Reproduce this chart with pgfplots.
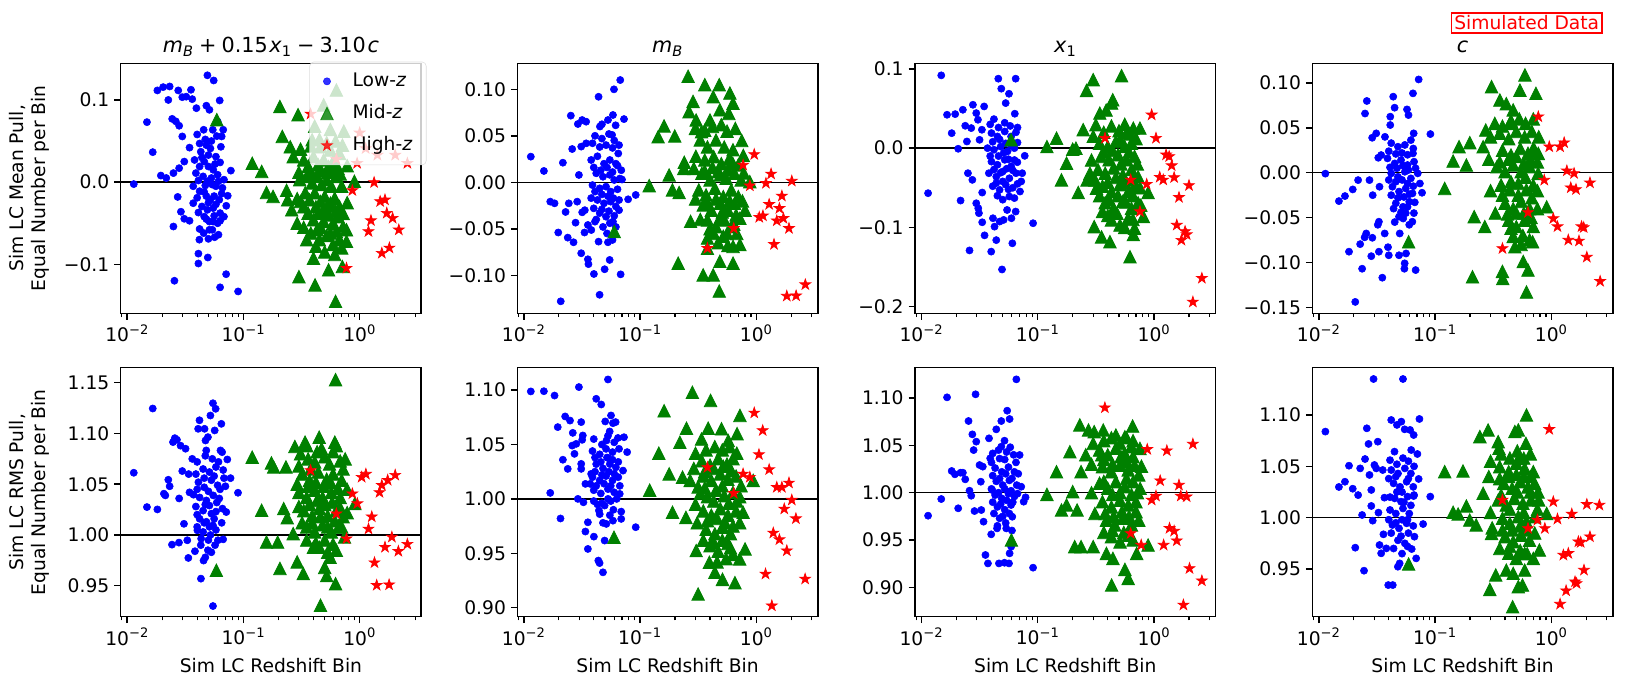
\documentclass[border=0pt]{standalone}
\usepackage{fontspec}
\setmainfont{DejaVu Sans}
\usepackage{pgfplots}
\pgfplotsset{compat=1.18}

\definecolor{mplblue}{rgb}{0,0,1}
\definecolor{mplgreen}{rgb}{0,0.5,0}
\definecolor{mplred}{rgb}{1,0,0}

% matplotlib-like '^' and '*' markers
\pgfdeclareplotmark{mtri}{%
  \pgfpathmoveto{\pgfqpoint{0pt}{\pgfplotmarksize}}%
  \pgfpathlineto{\pgfqpoint{-\pgfplotmarksize}{-\pgfplotmarksize}}%
  \pgfpathlineto{\pgfqpoint{\pgfplotmarksize}{-\pgfplotmarksize}}%
  \pgfpathclose\pgfusepathqfillstroke}
\pgfdeclareplotmark{mstar}{%
  \pgfpathmoveto{\pgfpointpolar{90}{\pgfplotmarksize}}%
  \pgfpathlineto{\pgfpointpolar{126}{0.382\pgfplotmarksize}}%
  \pgfpathlineto{\pgfpointpolar{162}{\pgfplotmarksize}}%
  \pgfpathlineto{\pgfpointpolar{198}{0.382\pgfplotmarksize}}%
  \pgfpathlineto{\pgfpointpolar{234}{\pgfplotmarksize}}%
  \pgfpathlineto{\pgfpointpolar{270}{0.382\pgfplotmarksize}}%
  \pgfpathlineto{\pgfpointpolar{306}{\pgfplotmarksize}}%
  \pgfpathlineto{\pgfpointpolar{342}{0.382\pgfplotmarksize}}%
  \pgfpathlineto{\pgfpointpolar{18}{\pgfplotmarksize}}%
  \pgfpathlineto{\pgfpointpolar{54}{0.382\pgfplotmarksize}}%
  \pgfpathclose\pgfusepathqfillstroke}

\newcommand{\tfs}{\fontsize{13.5}{16.2}\selectfont}
\newcommand{\op}[1]{\hspace{0.25em}#1\hspace{0.25em}}

\tikzset{
  lowz/.style={only marks, mark=*, mark size=2.6pt, color=mplblue, mark options={line width=0.4pt}},
  midz/.style={only marks, mark=mtri, mark size=4.5pt, color=mplgreen, mark options={line width=0.6pt}},
  highz/.style={only marks, mark=mstar, mark size=4.1pt, color=mplred, mark options={line width=0.5pt}},
  zline/.style={black, line width=1.08pt},
}

\pgfplotsset{
  every axis title shift=0pt,
  every axis/.append style={
    scale only axis, width=3.005in, anchor=north west,
    xmode=log, xmin=0.0088, xmax=3.38,
    xtick={0.01,0.1,1},
    xticklabels={10\textsuperscript{−2},10\textsuperscript{−1},10\textsuperscript{0}},
    minor xtick={0.009,0.02,0.03,0.04,0.05,0.06,0.07,0.08,0.09,0.2,0.3,0.4,0.5,0.6,0.7,0.8,0.9,2,3},
    tick align=outside, tick pos=left,
    major tick length=4.7pt, minor tick length=2.7pt,
    every major tick/.append style={line width=1.08pt, black},
    every minor tick/.append style={line width=0.8pt, black},
    axis line style={line width=1.08pt},
    tick label style={font=\tfs},
    label style={font=\tfs},
    title style={font=\fontsize{15}{18}\selectfont, at={(0.5,1)}, anchor=base, yshift=0.11in},
    ylabel style={align=center, at={(axis description cs:-0.236,0.5)}, anchor=south, inner sep=0pt},
    xlabel style={at={(axis description cs:0.5,-0.2249)}, anchor=base},
  },
}

\begin{document}
\begin{tikzpicture}

% ---------------- top row: mean pull ----------------
\begin{axis}[height=2.5in, at={(1.207in,-0.633in)},
  ymin=-0.1596, ymax=0.1446,
  ytick={-0.1,0,0.1}, yticklabels={−0.1,0.0,0.1},
  title={\textit{m}\textsubscript{\textit{B}}\op{+}0.15\hspace{0.08em}\textit{x}\textsubscript{1}\op{−}3.10\hspace{0.08em}\textit{c}},
  ylabel={Sim LC Mean Pull,\\Equal Number per Bin},
  legend style={at={(1.0177,1.0064)}, anchor=north east, draw=black!16, fill=white,
    fill opacity=0.8, draw opacity=0.8, text opacity=1, rounded corners=3pt, font=\tfs,
    inner xsep=8pt, inner ysep=4pt, row sep=3.2pt, column sep=12pt,
    nodes={inner ysep=3.5pt, text height=10pt, text depth=3pt}},
  legend cell align=left,
]
\addplot[lowz] coordinates {
(0.0114,-0.0024) (0.0148,0.073) (0.0166,0.0365) (0.0182,0.1116) (0.0204,0.1156) (0.0232,0.1164) (0.0226,0.100) (0.0195,0.008)
(0.0217,0.005) (0.0244,0.077) (0.0262,0.074) (0.028,0.0686) (0.0275,0.1116) (0.0298,0.1034) (0.0322,0.104) (0.0354,0.1124)
(0.0363,0.101) (0.0394,0.090) (0.0298,0.0556) (0.0344,0.042) (0.031,0.025) (0.028,0.017) (0.025,0.011) (0.0272,-0.018)
(0.029,-0.036) (0.031,-0.0446) (0.0344,-0.047) (0.025,-0.054) (0.0255,-0.120) (0.041,-0.087) (0.041,-0.099) (0.0494,-0.0917)
(0.049,0.130) (0.0555,0.1237) (0.0625,0.0994) (0.048,0.093) (0.051,0.088) (0.0455,0.0637) (0.0545,0.0637) (0.067,0.0637)
(0.060,0.0738) (0.065,0.0556) (0.078,0.014) (0.0733,-0.0166) (0.0712,-0.0288) (0.063,-0.0377) (0.0565,-0.067) (0.050,-0.069)
(0.0418,-0.070) (0.071,-0.112) (0.063,-0.128) (0.090,-0.133) (0.042,-0.057) (0.051,-0.058) (0.055,-0.048)
(0.042,0.047) (0.043,0.037) (0.048,0.045) (0.052,0.041) (0.058,0.031) (0.064,0.043) (0.038,0.027) (0.042,0.019) (0.046,0.025)
(0.050,0.019) (0.055,0.015) (0.060,0.009) (0.039,0.011) (0.045,0.007) (0.049,0.001) (0.054,-0.003) (0.058,-0.005) (0.066,-0.007)
(0.037,-0.005) (0.042,-0.011) (0.048,-0.017) (0.052,-0.0215) (0.056,-0.017) (0.062,-0.0215) (0.037,-0.0256) (0.044,-0.0296)
(0.049,-0.0337) (0.055,-0.0316) (0.046,-0.042) (0.051,-0.048) (0.060,-0.050) (0.0455,-0.062)
(0.040,0.058) (0.047,0.052) (0.053,0.050) (0.059,0.056) (0.044,0.030) (0.050,0.033) (0.057,0.022) (0.063,0.024) (0.041,0.002)
(0.047,-0.004) (0.053,0.005) (0.061,0.001) (0.068,0.003) (0.040,-0.019) (0.046,-0.012) (0.050,-0.025) (0.058,-0.027) (0.065,-0.014)
(0.041,-0.037) (0.048,-0.045) (0.056,-0.041) (0.063,-0.047) (0.054,-0.058) (0.061,-0.064) (0.068,-0.042)
};
\addlegendentry{Low-\textit{z}}
\addplot[midz] coordinates {
(0.059,0.076) (0.119,0.023) (0.1435,0.013) (0.158,-0.0126) (0.18,-0.0174) (0.206,0.092) (0.216,0.0556) (0.235,-0.010)
(0.253,0.043) (0.268,0.031) (0.295,0.082) (0.305,0.003) (0.29,-0.050) (0.30,-0.115) (0.40,-0.0925) (0.413,-0.125) (0.62,-0.145)
(0.54,-0.1067) (0.61,-0.088) (0.71,-0.1026) (0.77,-0.058) (0.90,0.001) (0.63,0.112) (0.49,0.094) (0.73,0.062) (0.35,-0.070)
(0.45,-0.070) (0.24,-0.0215) (0.26,-0.0337) (0.31,-0.0235)
(0.33,0.027) (0.36,0.019) (0.40,0.031) (0.44,0.021) (0.49,0.027) (0.54,0.019) (0.59,0.025) (0.65,0.017) (0.35,0.007) (0.39,-0.001)
(0.43,0.007) (0.47,-0.003) (0.52,0.003) (0.57,-0.005) (0.63,0.007) (0.70,-0.005) (0.34,-0.013) (0.37,-0.0215) (0.41,-0.013)
(0.46,-0.0235) (0.50,-0.0174) (0.56,-0.0256) (0.61,-0.0195) (0.67,-0.0296) (0.36,-0.0377) (0.40,-0.0458) (0.44,-0.0377)
(0.49,-0.048) (0.54,-0.040) (0.59,-0.050) (0.65,-0.042) (0.72,-0.054) (0.43,-0.058) (0.56,-0.062) (0.67,-0.070) (0.59,-0.076)
(0.39,0.0515) (0.46,0.043) (0.56,0.039) (0.67,0.035) (0.41,0.068) (0.56,0.064)
(0.31,0.040) (0.38,0.044) (0.45,0.052) (0.52,0.048) (0.62,0.050) (0.71,0.045) (0.30,0.012) (0.38,0.012) (0.45,0.014) (0.53,0.012)
(0.60,0.013) (0.68,0.010) (0.78,0.020) (0.29,-0.020) (0.33,-0.030) (0.42,-0.030) (0.48,-0.035) (0.53,-0.028) (0.62,-0.035)
(0.72,-0.038) (0.78,-0.025) (0.33,-0.055) (0.38,-0.062) (0.46,-0.055) (0.52,-0.065) (0.63,-0.060) (0.70,-0.080) (0.50,-0.085)
(0.42,-0.078) (0.77,-0.072)
};
\addlegendentry{Mid-\textit{z}}
\addplot[highz] coordinates {
(0.378,0.083) (0.63,0.028) (0.95,0.023) (1.42,0.033) (2.02,0.033) (2.57,0.023) (1.125,0.041) (1.0,0.060) (1.33,-0.0004)
(0.865,-0.0101) (1.50,-0.0235) (1.65,-0.0215) (1.71,-0.0377) (1.92,-0.0438) (2.17,-0.058) (1.25,-0.0467) (1.19,-0.060)
(1.80,-0.080) (1.55,-0.0864) (0.77,-0.1047)
};
\addlegendentry{High-\textit{z}}
\addplot[zline, forget plot] coordinates {(0.0088,0) (3.38,0)};
\end{axis}

\begin{axis}[height=2.5in, at={(5.173in,-0.633in)},
  ymin=-0.1409, ymax=0.128,
  ytick={-0.1,-0.05,0,0.05,0.1}, yticklabels={−0.10,−0.05,0.00,0.05,0.10},
  title={\textit{m}\textsubscript{\textit{B}}}]
\addplot[lowz] coordinates {
(0.0115,0.0276) (0.0149,0.0122) (0.0217,0.0211) (0.0169,-0.0208) (0.0184,-0.0226) (0.0198,-0.054) (0.0208,-0.128) (0.0229,-0.0319)
(0.0244,-0.0226) (0.0239,-0.0595) (0.0268,-0.0645) (0.0279,-0.0434) (0.0288,-0.0208) (0.0254,0.0717) (0.0261,0.0358) (0.0298,0.0079)
(0.0292,0.0627) (0.0318,0.067) (0.0344,0.0652) (0.0312,0.0384) (0.0344,0.0419) (0.0318,-0.0323) (0.0335,-0.030) (0.0312,-0.0763)
(0.0356,-0.0828) (0.0360,-0.088) (0.0401,-0.0986) (0.0449,-0.121) (0.0496,-0.0935) (0.0548,-0.0835) (0.0681,-0.099) (0.044,0.092)
(0.0597,0.100) (0.0676,0.110) (0.0728,0.068) (0.0585,0.0724) (0.053,0.067) (0.0452,0.060) (0.047,0.0624) (0.0617,0.0613)
(0.0575,0.051) (0.0918,-0.0136) (0.079,-0.0183) (0.044,-0.0638) (0.053,-0.0645) (0.0381,-0.0513) (0.0333,-0.054) (0.0356,-0.0459)
(0.041,-0.0423) (0.0585,-0.0423) (0.066,-0.030)
(0.039,0.042) (0.045,0.038) (0.051,0.040) (0.058,0.037) (0.065,0.031) (0.038,0.024) (0.043,0.028) (0.049,0.020) (0.055,0.024)
(0.062,0.020) (0.069,0.013) (0.042,0.0097) (0.048,0.006) (0.055,0.008) (0.060,0.0025) (0.067,0.004) (0.039,-0.003) (0.045,-0.0065)
(0.051,-0.0047) (0.056,-0.010) (0.064,-0.0075) (0.038,-0.017) (0.043,-0.019) (0.049,-0.0226) (0.056,-0.0208) (0.062,-0.026)
(0.045,-0.033) (0.051,-0.037) (0.048,-0.048)
(0.041,0.050) (0.047,0.047) (0.054,0.052) (0.060,0.045) (0.066,0.040) (0.040,0.016) (0.046,0.013) (0.052,0.016) (0.058,0.011)
(0.064,0.018) (0.070,0.003) (0.041,-0.010) (0.047,-0.013) (0.053,-0.015) (0.059,-0.017) (0.066,-0.019) (0.040,-0.028) (0.047,-0.029)
(0.054,-0.031) (0.060,-0.036) (0.042,-0.040) (0.055,-0.044) (0.062,-0.048) (0.052,-0.055) (0.058,-0.062)
};
\addplot[midz] coordinates {
(0.06,-0.053) (0.12,-0.0036) (0.143,0.049) (0.161,0.0606) (0.199,0.0498) (0.178,0.0079) (0.19,-0.0082) (0.217,-0.011) (0.213,-0.087)
(0.238,0.015) (0.24,0.0215) (0.259,0.114) (0.272,-0.042) (0.264,0.076) (0.286,0.087) (0.302,0.028) (0.304,0.067) (0.361,0.105)
(0.349,-0.0996) (0.38,-0.071) (0.426,-0.0996) (0.48,-0.117) (0.486,-0.085) (0.48,0.105) (0.426,0.092) (0.593,0.096) (0.631,-0.087)
(0.631,-0.069) (0.723,-0.067) (0.723,-0.0387) (0.80,-0.030) (0.773,0.029) (0.88,0.0007) (0.486,0.078) (0.58,0.074) (0.631,0.085)
(0.40,0.067) (0.338,0.0545)
(0.33,0.0455) (0.38,0.038) (0.45,0.0455) (0.53,0.038) (0.63,0.035) (0.36,0.024) (0.43,0.0276) (0.50,0.020) (0.59,0.026) (0.70,0.0186)
(0.34,0.0097) (0.40,0.0025) (0.47,0.0115) (0.55,0.0043) (0.65,0.0097) (0.74,0.0025) (0.32,-0.0082) (0.37,-0.0136) (0.44,-0.0065)
(0.52,-0.0154) (0.61,-0.0082) (0.70,-0.0154) (0.35,-0.0244) (0.41,-0.030) (0.49,-0.0226) (0.57,-0.030) (0.65,-0.0226)
(0.38,-0.0405) (0.45,-0.0477) (0.53,-0.0405) (0.61,-0.0477) (0.43,-0.055) (0.52,-0.058)
(0.30,0.058) (0.36,0.056) (0.42,0.060) (0.50,0.062) (0.56,0.055) (0.66,0.058) (0.75,0.045) (0.29,0.015) (0.36,0.012) (0.42,0.016)
(0.49,0.008) (0.57,0.014) (0.63,0.020) (0.78,0.010) (0.30,-0.018) (0.38,-0.022) (0.45,-0.018) (0.51,-0.032) (0.59,-0.020)
(0.67,-0.035) (0.76,-0.020) (0.33,-0.040) (0.40,-0.050) (0.48,-0.040) (0.56,-0.055) (0.64,-0.045) (0.47,-0.065) (0.57,-0.068)
(0.38,-0.060) (0.68,-0.055)
};
\addplot[highz] coordinates {
(0.96,0.030) (0.77,0.0186) (0.88,-0.0037) (1.21,-0.001) (1.34,0.009) (2.02,0.0014) (1.66,-0.0147) (1.29,-0.0237) (1.58,-0.028)
(1.06,-0.0376) (1.14,-0.036) (1.50,-0.0413) (1.71,-0.0387) (1.91,-0.0495) (1.42,-0.0667) (0.64,-0.0495) (1.83,-0.1223)
(2.20,-0.122) (2.64,-0.110) (0.38,-0.071)
};
\addplot[zline] coordinates {(0.0088,0) (3.38,0)};
\end{axis}

\begin{axis}[height=2.5in, at={(9.150in,-0.633in)},
  ymin=-0.2083, ymax=0.107,
  ytick={-0.2,-0.1,0,0.1}, yticklabels={−0.2,−0.1,0.0,0.1},
  title={\textit{x}\textsubscript{1}}]
\addplot[lowz] coordinates {
(0.0148,0.0918) (0.0114,-0.0568) (0.0166,0.0421) (0.0195,0.0429) (0.0182,0.0189) (0.0207,-0.0008) (0.0217,-0.0661) (0.0227,0.0484)
(0.0238,0.0282) (0.0246,0.0084) (0.0251,-0.0316) (0.0274,-0.040) (0.0259,-0.129) (0.0277,0.0547) (0.0268,0.0253) (0.0296,0.0442)
(0.0306,0.0358) (0.0316,0.0105) (0.0331,0.0232) (0.0333,-0.056) (0.0296,-0.0695) (0.0308,-0.0758) (0.0312,-0.082) (0.0333,-0.0935)
(0.0349,-0.110) (0.0398,-0.1305) (0.0346,0.0526) (0.042,0.0366) (0.0412,-0.0884) (0.0425,-0.099) (0.0458,0.0876) (0.0486,0.075)
(0.0566,0.0686) (0.0646,0.0876) (0.0493,-0.153) (0.044,-0.116) (0.0605,-0.120) (0.047,-0.0926) (0.0509,-0.0905) (0.0594,-0.0884)
(0.0646,-0.080) (0.0545,-0.078) (0.0773,-0.0097) (0.0912,-0.0947) (0.0704,-0.0547) (0.0721,-0.042) (0.0735,-0.0316)
(0.0668,-0.0177) (0.0670,0.026) (0.0635,0.0434) (0.053,0.0568)
(0.040,0.019) (0.045,0.0147) (0.052,0.021) (0.059,0.0147) (0.037,0.000) (0.042,-0.002) (0.048,0.002) (0.055,-0.004) (0.063,0.000)
(0.040,-0.017) (0.045,-0.021) (0.052,-0.0147) (0.059,-0.023) (0.038,-0.0316) (0.044,-0.036) (0.050,-0.0295) (0.057,-0.038)
(0.065,-0.0316) (0.041,-0.048) (0.047,-0.0526) (0.053,-0.046) (0.061,-0.050) (0.050,-0.065) (0.057,-0.061)
(0.039,0.030) (0.046,0.026) (0.052,0.032) (0.058,0.028) (0.065,0.020) (0.041,0.008) (0.047,0.011) (0.053,0.006) (0.059,0.004)
(0.067,0.007) (0.039,-0.010) (0.046,-0.010) (0.051,-0.006) (0.056,-0.014) (0.063,-0.015) (0.042,-0.027) (0.048,-0.031)
(0.054,-0.026) (0.061,-0.028) (0.067,-0.045) (0.044,-0.044) (0.050,-0.042) (0.056,-0.052) (0.045,-0.060) (0.063,-0.063)
};
\addplot[midz] coordinates {
(0.059,0.0105) (0.12,0.002) (0.145,0.0126) (0.16,-0.040) (0.177,-0.019) (0.20,-0.0013) (0.213,0.000) (0.223,-0.056) (0.246,0.0232)
(0.263,0.0728) (0.30,0.0863) (0.316,0.0295) (0.342,0.0442) (0.306,-0.099) (0.354,-0.112) (0.418,-0.118) (0.432,0.0568)
(0.442,0.061) (0.388,0.048) (0.526,0.0914) (0.621,-0.137) (0.664,-0.109) (0.68,-0.101) (0.757,0.0253) (0.664,0.0253)
(0.89,-0.056) (0.81,-0.0863) (0.51,0.0105) (0.58,0.019) (0.32,-0.0505) (0.266,-0.040) (0.281,-0.0316)
(0.34,0.0063) (0.40,0.002) (0.47,0.0084) (0.56,0.002) (0.64,0.0063) (0.35,-0.0105) (0.41,-0.0147) (0.49,-0.0084) (0.58,-0.0147)
(0.68,-0.0105) (0.33,-0.027) (0.38,-0.0316) (0.45,-0.025) (0.54,-0.034) (0.64,-0.027) (0.73,-0.036) (0.36,-0.048) (0.43,-0.055)
(0.51,-0.046) (0.60,-0.055) (0.68,-0.048) (0.38,-0.069) (0.45,-0.076) (0.54,-0.067) (0.64,-0.076) (0.73,-0.069) (0.43,-0.0905)
(0.51,-0.097) (0.60,-0.0884)
(0.30,0.015) (0.37,0.020) (0.43,0.028) (0.50,0.022) (0.56,0.030) (0.62,0.018) (0.70,0.012) (0.29,-0.015) (0.37,-0.005) (0.44,-0.003)
(0.52,-0.020) (0.61,-0.005) (0.72,-0.020) (0.31,-0.040) (0.40,-0.043) (0.47,-0.037) (0.56,-0.043) (0.66,-0.040) (0.76,-0.050)
(0.34,-0.060) (0.41,-0.065) (0.49,-0.060) (0.57,-0.068) (0.66,-0.060) (0.77,-0.072) (0.40,-0.085) (0.48,-0.082) (0.56,-0.100)
(0.66,-0.090) (0.36,-0.080)
};
\addplot[highz] coordinates {
(0.379,0.0126) (0.955,0.042) (1.04,0.0126) (0.63,-0.040) (0.757,-0.080) (0.865,-0.0455) (1.27,-0.0084) (1.35,-0.0105)
(1.42,-0.022) (1.12,-0.0366) (1.20,-0.040) (1.49,-0.037) (1.64,-0.062) (2.0,-0.047) (1.57,-0.097) (1.85,-0.105) (1.91,-0.109)
(1.72,-0.116) (2.58,-0.164) (2.16,-0.194)
};
\addplot[zline] coordinates {(0.0088,0) (3.38,0)};
\end{axis}

\begin{axis}[height=2.5in, at={(13.123in,-0.633in)}, name=p4,
  ymin=-0.1567, ymax=0.122,
  ytick={-0.15,-0.1,-0.05,0,0.05,0.1}, yticklabels={−0.15,−0.10,−0.05,0.00,0.05,0.10},
  title={\textit{c}}]
\addplot[lowz] coordinates {
(0.0114,-0.001) (0.0149,-0.0316) (0.0168,-0.026) (0.0196,-0.0186) (0.0182,-0.088) (0.0218,-0.0082) (0.0227,-0.0796) (0.0236,-0.107)
(0.0206,-0.144) (0.025,0.066) (0.0259,0.080) (0.0273,-0.0082) (0.0248,-0.072) (0.0256,-0.0677) (0.0283,-0.093) (0.0289,-0.0725)
(0.0291,-0.025) (0.0288,0.039) (0.0312,0.0439) (0.0325,0.0167) (0.0344,0.0197) (0.0333,-0.0156) (0.0329,-0.0546) (0.0322,-0.058)
(0.0329,-0.088) (0.0352,-0.117) (0.0371,0.040) (0.0369,-0.0677) (0.0394,-0.083) (0.0400,-0.092) (0.0412,0.0625) (0.0437,0.0848)
(0.0449,0.0725) (0.0412,0.0532) (0.049,-0.092) (0.0548,-0.101) (0.0545,-0.107) (0.0681,-0.1085) (0.0574,0.0706) (0.0591,0.0643)
(0.0646,0.0885) (0.0723,0.104) (0.0655,0.0439) (0.0912,0.0431) (0.0773,-0.0223) (0.0741,-0.012) (0.0646,0.0216) (0.0563,-0.090)
(0.0497,-0.0677) (0.0638,-0.0546) (0.0658,-0.045) (0.0532,-0.051)
(0.042,0.033) (0.048,0.029) (0.055,0.031) (0.062,0.0364) (0.039,0.016) (0.045,0.0104) (0.051,0.0141) (0.058,0.0086) (0.066,0.0123)
(0.042,-0.0007) (0.048,-0.0045) (0.055,0.0011) (0.062,-0.0063) (0.071,-0.0007) (0.043,-0.0156) (0.049,-0.021) (0.056,-0.0175)
(0.064,-0.023) (0.046,-0.034) (0.053,-0.038) (0.060,-0.0323) (0.049,-0.049) (0.056,-0.045)
(0.040,0.024) (0.046,0.021) (0.052,0.022) (0.058,0.020) (0.065,0.027) (0.041,0.006) (0.047,0.005) (0.053,0.008) (0.059,0.003)
(0.068,0.005) (0.040,-0.008) (0.046,-0.010) (0.052,-0.008) (0.058,-0.012) (0.065,-0.015) (0.042,-0.025) (0.048,-0.028)
(0.054,-0.027) (0.060,-0.024) (0.067,-0.033) (0.044,-0.040) (0.051,-0.044) (0.058,-0.038) (0.045,-0.055) (0.060,-0.058)
};
\addplot[midz] coordinates {
(0.0593,-0.077) (0.121,-0.0175) (0.143,0.013) (0.161,0.029) (0.186,0.0086) (0.199,0.0335) (0.217,-0.049) (0.21,-0.116)
(0.259,0.029) (0.268,-0.060) (0.273,0.0476) (0.306,0.096) (0.327,0.055) (0.361,0.081) (0.38,-0.110) (0.382,-0.118) (0.47,0.070)
(0.537,0.092) (0.593,0.109) (0.738,0.0885) (0.574,-0.099) (0.63,-0.1085) (0.612,-0.133) (0.69,-0.077) (0.486,-0.0825)
(0.912,-0.038) (0.773,0.0216) (0.70,0.027) (0.44,0.055) (0.41,0.077)
(0.36,0.044) (0.43,0.038) (0.50,0.046) (0.59,0.040) (0.68,0.046) (0.38,0.025) (0.45,0.0197) (0.54,0.027) (0.63,0.0216) (0.72,0.025)
(0.34,0.0067) (0.40,0.0011) (0.47,0.0086) (0.55,0.0011) (0.65,0.0067) (0.77,-0.0007) (0.37,-0.0138) (0.44,-0.019) (0.52,-0.012)
(0.61,-0.019) (0.70,-0.0138) (0.40,-0.034) (0.47,-0.040) (0.55,-0.032) (0.65,-0.040) (0.43,-0.053) (0.50,-0.060) (0.59,-0.053)
(0.70,-0.060) (0.47,-0.071) (0.57,-0.070)
(0.30,0.040) (0.38,0.052) (0.45,0.058) (0.53,0.060) (0.60,0.055) (0.70,0.060) (0.78,0.040) (0.29,0.015) (0.36,0.012) (0.43,0.015)
(0.50,0.018) (0.58,0.010) (0.66,0.015) (0.76,0.012) (0.30,-0.020) (0.38,-0.025) (0.45,-0.010) (0.52,-0.025) (0.60,-0.005)
(0.68,-0.028) (0.76,-0.020) (0.33,-0.045) (0.42,-0.046) (0.50,-0.045) (0.58,-0.045) (0.67,-0.050) (0.76,-0.040) (0.45,-0.062)
(0.55,-0.080) (0.65,-0.075)
};
\addplot[highz] coordinates {
(0.773,0.0625) (0.96,0.029) (1.19,0.029) (1.29,0.0335) (1.36,0.0022) (1.57,-0.0007) (0.87,-0.0082) (1.47,-0.0167) (1.63,-0.0186)
(2.15,-0.0112) (0.63,-0.0442) (1.04,-0.051) (1.13,-0.060) (1.82,-0.060) (1.90,-0.061) (1.40,-0.075) (1.73,-0.076) (2.02,-0.094)
(2.63,-0.121) (0.38,-0.0844)
};
\addplot[zline] coordinates {(0.0088,0) (3.38,0)};
\end{axis}

% ---------------- bottom row: RMS pull ----------------
\begin{axis}[height=2.49in, at={(1.207in,-3.677in)},
  ymin=0.9195, ymax=1.1648,
  ytick={0.95,1,1.05,1.1,1.15}, yticklabels={0.95,1.00,1.05,1.10,1.15},
  xlabel={Sim LC Redshift Bin},
  ylabel={Sim LC RMS Pull,\\Equal Number per Bin}]
\addplot[lowz] coordinates {
(0.0114,1.0613) (0.0166,1.1246) (0.0148,1.0275) (0.0182,1.0252) (0.0213,1.039) (0.0207,1.0407) (0.0226,1.0544) (0.0232,1.048)
(0.0243,0.9905) (0.0248,1.0915) (0.0257,1.0954) (0.0268,1.0938) (0.0279,0.9925) (0.028,1.036) (0.0288,1.088) (0.0298,1.063)
(0.0308,1.011) (0.0318,1.085) (0.0329,0.9948) (0.0336,0.9774) (0.0338,1.060) (0.0344,1.042) (0.0363,1.075) (0.0372,1.0397)
(0.0383,0.984) (0.0402,1.0046) (0.0408,1.1046) (0.0419,1.113) (0.0431,0.957) (0.0454,0.9748) (0.0463,1.1046) (0.0472,1.0931)
(0.0479,1.0833) (0.0495,1.0964) (0.052,1.1177) (0.0547,1.1298) (0.0577,1.1243) (0.0566,1.103) (0.0646,1.1095) (0.0635,1.0833)
(0.0656,1.0816) (0.0727,1.0744) (0.0775,1.056) (0.0898,1.0416) (0.0712,1.0226) (0.0669,0.9957) (0.0547,0.930) (0.0495,0.985)
(0.0530,0.983) (0.0604,0.9948) (0.0433,0.9964) (0.0547,1.0095)
(0.039,1.060) (0.045,1.065) (0.051,1.062) (0.058,1.067) (0.067,1.064) (0.041,1.052) (0.046,1.047) (0.053,1.054) (0.060,1.049)
(0.042,1.037) (0.048,1.034) (0.055,1.039) (0.062,1.036) (0.039,1.028) (0.045,1.024) (0.051,1.029) (0.058,1.023) (0.042,1.016)
(0.048,1.013) (0.056,1.016) (0.045,1.003) (0.051,1.008)
(0.040,1.072) (0.047,1.078) (0.054,1.075) (0.061,1.072) (0.068,1.056) (0.040,1.045) (0.046,1.056) (0.050,1.043) (0.056,1.058)
(0.063,1.045) (0.070,1.048) (0.040,1.020) (0.047,1.030) (0.053,1.021) (0.059,1.032) (0.066,1.026) (0.040,1.008) (0.046,1.012)
(0.052,1.000) (0.058,1.005) (0.065,1.012) (0.043,0.990) (0.050,0.995) (0.057,0.990) (0.047,0.978)
};
\addplot[midz] coordinates {
(0.0585,0.9652) (0.119,1.0767) (0.1435,1.0243) (0.158,0.993) (0.174,1.071) (0.182,1.067) (0.197,0.993) (0.206,0.967) (0.222,1.026)
(0.232,1.067) (0.238,1.017) (0.268,1.0013) (0.277,1.0872) (0.29,0.9734) (0.327,0.962) (0.339,1.0915) (0.378,1.065) (0.448,1.0964)
(0.46,0.9308) (0.50,0.968) (0.52,0.960) (0.611,1.0915) (0.62,1.153) (0.62,0.952) (0.72,1.065) (0.74,0.998) (0.909,1.031)
(0.557,0.978) (0.35,0.995) (0.40,0.988)
(0.31,1.080) (0.36,1.075) (0.43,1.082) (0.50,1.077) (0.59,1.082) (0.68,1.073) (0.32,1.060) (0.37,1.054) (0.44,1.062) (0.52,1.055)
(0.59,1.060) (0.70,1.054) (0.30,1.042) (0.35,1.037) (0.41,1.044) (0.48,1.037) (0.57,1.042) (0.68,1.037) (0.33,1.024) (0.39,1.019)
(0.45,1.026) (0.53,1.019) (0.63,1.024) (0.72,1.018) (0.35,1.008) (0.41,1.003) (0.48,1.010) (0.57,1.003) (0.66,1.008) (0.45,0.988)
(0.53,0.983) (0.59,0.991)
(0.30,1.068) (0.35,1.088) (0.41,1.072) (0.47,1.085) (0.55,1.070) (0.63,1.088) (0.75,1.075) (0.29,1.050) (0.36,1.048) (0.42,1.052)
(0.49,1.048) (0.56,1.052) (0.65,1.046) (0.78,1.045) (0.30,1.028) (0.37,1.030) (0.43,1.034) (0.50,1.030) (0.58,1.032) (0.67,1.028)
(0.78,1.022) (0.32,1.012) (0.39,1.012) (0.46,1.018) (0.53,1.008) (0.61,1.014) (0.70,1.008) (0.42,0.992) (0.50,0.995) (0.63,0.985)
};
\addplot[highz] coordinates {
(0.378,1.0636) (0.63,1.021) (0.77,0.9964) (0.865,1.0407) (0.955,1.031) (1.04,1.057) (1.13,1.060) (1.27,1.018) (1.19,1.006)
(1.48,1.042) (1.55,1.049) (1.74,1.054) (2.02,1.059) (1.89,0.998) (1.65,0.988) (2.15,0.984) (2.57,0.991) (1.34,0.9728)
(1.40,0.9505) (1.79,0.951)
};
\addplot[zline] coordinates {(0.0088,1) (3.38,1)};
\end{axis}

\begin{axis}[height=2.49in, at={(5.173in,-3.677in)},
  ymin=0.8917, ymax=1.1206,
  ytick={0.9,0.95,1,1.05,1.1}, yticklabels={0.90,0.95,1.00,1.05,1.10},
  xlabel={Sim LC Redshift Bin}]
\addplot[lowz] coordinates {
(0.0115,1.0988) (0.0149,1.099) (0.0184,1.095) (0.0196,1.066) (0.0169,1.0055) (0.0207,0.982) (0.0217,1.036) (0.0227,1.0758)
(0.0239,1.0276) (0.025,1.072) (0.0264,1.0607) (0.0261,1.049) (0.0273,1.0414) (0.0283,1.0506) (0.0298,1.1028) (0.0312,1.0706)
(0.0318,1.0543) (0.0322,1.0583) (0.0312,1.0322) (0.0312,1.0276) (0.0292,1.000) (0.0326,0.9969) (0.0339,1.0138) (0.0339,0.970)
(0.0356,0.954) (0.0356,0.9785) (0.0373,1.0138) (0.038,1.023) (0.0401,0.9653) (0.0420,1.092) (0.0443,0.9893) (0.0464,1.0868)
(0.0438,0.9433) (0.0449,0.941) (0.0480,0.9325) (0.0496,0.9617) (0.0502,1.0712) (0.0530,1.1098) (0.0563,1.0767) (0.0585,1.0696)
(0.0617,1.0706) (0.0548,1.062) (0.0515,1.0537) (0.0530,1.0377) (0.0646,1.056) (0.0728,1.0567) (0.0775,1.043) (0.0714,1.026)
(0.0918,0.974) (0.0689,0.9816) (0.0689,0.9883) (0.0585,0.980) (0.0513,0.977) (0.0669,1.0046) (0.0496,0.9939)
(0.039,1.044) (0.045,1.041) (0.051,1.046) (0.058,1.043) (0.042,1.032) (0.048,1.028) (0.055,1.032) (0.062,1.029) (0.039,1.020)
(0.045,1.017) (0.051,1.021) (0.058,1.017) (0.065,1.020) (0.040,1.008) (0.046,1.005) (0.053,1.009) (0.060,1.006) (0.043,0.995)
(0.056,0.998) (0.045,0.986)
(0.040,1.055) (0.047,1.050) (0.053,1.058) (0.060,1.052) (0.066,1.046) (0.041,1.038) (0.046,1.034) (0.052,1.038) (0.058,1.036)
(0.065,1.034) (0.041,1.025) (0.047,1.022) (0.054,1.025) (0.060,1.023) (0.067,1.012) (0.042,1.012) (0.049,1.014) (0.056,1.012)
(0.063,1.000) (0.040,0.998) (0.047,0.996) (0.053,1.000) (0.059,0.990) (0.048,0.978) (0.055,0.985)
};
\addplot[midz] coordinates {
(0.0597,0.9647) (0.121,1.008) (0.145,1.042) (0.161,1.081) (0.178,1.023) (0.19,0.9877) (0.22,1.052) (0.232,1.020) (0.248,0.983)
(0.251,1.065) (0.282,1.098) (0.316,0.9126) (0.304,0.9525) (0.338,1.055) (0.386,1.065) (0.404,1.0905) (0.395,0.9417) (0.44,0.9325)
(0.502,1.0644) (0.512,0.926) (0.574,1.0537) (0.655,0.923) (0.723,1.0767) (0.683,1.060) (0.72,0.9448) (0.80,0.954) (0.77,0.9877)
(0.94,1.017) (0.27,1.017) (0.316,1.011)
(0.34,1.035) (0.40,1.031) (0.47,1.037) (0.56,1.032) (0.63,1.037) (0.35,1.021) (0.41,1.017) (0.49,1.023) (0.57,1.018) (0.67,1.021)
(0.33,1.005) (0.38,1.002) (0.45,1.008) (0.53,1.003) (0.63,1.006) (0.72,1.002) (0.35,0.989) (0.41,0.985) (0.49,0.991) (0.57,0.985)
(0.67,0.989) (0.37,0.972) (0.44,0.968) (0.51,0.974) (0.60,0.968) (0.40,0.957) (0.47,0.952) (0.57,0.959) (0.63,0.949)
(0.30,1.042) (0.37,1.045) (0.44,1.048) (0.51,1.045) (0.59,1.048) (0.68,1.042) (0.29,1.028) (0.36,1.025) (0.43,1.028) (0.52,1.030)
(0.61,1.026) (0.74,1.012) (0.30,0.995) (0.36,1.010) (0.43,0.998) (0.51,1.012) (0.58,0.996) (0.68,0.998) (0.31,0.978) (0.38,0.980)
(0.46,0.982) (0.54,0.978) (0.63,0.975) (0.72,0.978) (0.35,0.962) (0.43,0.960) (0.51,0.962) (0.60,0.955) (0.46,0.942) (0.55,0.945)
};
\addplot[highz] coordinates {
(0.96,1.0791) (1.135,1.0629) (1.054,1.0408) (1.29,1.027) (0.77,1.023) (0.88,1.020) (1.50,1.0107) (1.66,1.0107) (1.91,1.0147)
(2.02,0.999) (1.74,0.9908) (2.19,0.9819) (1.40,0.9687) (1.58,0.9626) (1.83,0.9524) (1.20,0.931) (2.63,0.9264) (1.36,0.9018)
(0.64,1.0052) (0.38,1.029)
};
\addplot[zline] coordinates {(0.0088,1) (3.38,1)};
\end{axis}

\begin{axis}[height=2.49in, at={(9.150in,-3.677in)},
  ymin=0.869, ymax=1.132,
  ytick={0.9,0.95,1,1.05,1.1}, yticklabels={0.90,0.95,1.00,1.05,1.10},
  xlabel={Sim LC Redshift Bin}]
\addplot[lowz] coordinates {
(0.0114,0.9757) (0.0148,0.9933) (0.0166,1.1007) (0.0182,1.0229) (0.0194,1.0194) (0.0207,0.9835) (0.0217,1.0211) (0.0227,1.0211)
(0.0238,1.0141) (0.0254,1.0757) (0.0259,1.0021) (0.0268,0.9968) (0.0274,1.0616) (0.0286,0.9806) (0.0292,1.1039) (0.0281,1.045)
(0.0296,1.0539) (0.0316,1.0292) (0.0324,1.0116) (0.0327,0.9817) (0.0337,1.0275) (0.0342,0.9694) (0.0355,0.9342) (0.0373,0.9253)
(0.0381,1.0574) (0.0398,0.956) (0.039,1.0363) (0.0406,1.0028) (0.0440,1.0669) (0.0447,0.9623) (0.0464,0.9253) (0.0486,1.0486)
(0.0518,1.0549) (0.0518,0.926) (0.0546,1.0866) (0.0486,1.0757) (0.0573,1.0778) (0.0573,0.9359) (0.0566,0.9253) (0.0591,0.943)
(0.0604,0.9746) (0.0655,1.1197) (0.0699,1.0398) (0.0721,1.0063) (0.0786,0.9951) (0.0757,0.9905) (0.0912,0.9208) (0.0536,0.9623)
(0.041,1.0415) (0.047,1.036) (0.054,1.043) (0.062,1.040) (0.043,1.026) (0.049,1.022) (0.056,1.027) (0.063,1.022) (0.044,1.012)
(0.050,1.008) (0.057,1.013) (0.066,1.008) (0.043,0.9975) (0.049,0.994) (0.056,0.999) (0.063,0.996) (0.045,0.985) (0.052,0.982)
(0.059,0.987) (0.047,0.973)
(0.040,1.032) (0.046,1.045) (0.052,1.035) (0.058,1.048) (0.065,1.032) (0.041,1.018) (0.047,1.015) (0.053,1.020) (0.060,1.015)
(0.068,1.020) (0.040,1.004) (0.046,1.000) (0.052,1.004) (0.059,1.002) (0.067,0.999) (0.041,0.990) (0.048,0.988) (0.054,0.992)
(0.061,0.990) (0.042,0.978) (0.050,0.975) (0.057,0.978) (0.045,0.965) (0.053,0.968) (0.060,0.960)
};
\addplot[midz] coordinates {
(0.0594,0.95) (0.12,0.9982) (0.145,1.0222) (0.16,0.9817) (0.177,0.987) (0.189,1.0433) (0.2,1.0011) (0.208,0.943) (0.218,0.9817)
(0.23,1.0715) (0.236,0.943) (0.236,1.0222) (0.259,1.040) (0.273,1.0662) (0.30,0.943) (0.306,1.0644) (0.366,1.0662) (0.355,1.040)
(0.39,0.9359) (0.432,0.9025) (0.443,0.9306) (0.47,1.0609) (0.562,0.919) (0.60,0.9095) (0.655,1.0704) (0.71,0.9359) (0.757,1.0468)
(0.89,0.9447) (0.74,1.0187) (0.562,1.059)
(0.34,1.045) (0.40,1.040) (0.47,1.047) (0.56,1.0415) (0.64,1.0486) (0.36,1.0275) (0.43,1.022) (0.51,1.029) (0.60,1.024) (0.68,1.029)
(0.34,1.010) (0.40,1.0046) (0.47,1.0116) (0.56,1.0063) (0.66,1.0116) (0.76,1.0046) (0.36,0.9905) (0.43,0.985) (0.51,0.992)
(0.60,0.987) (0.70,0.9905) (0.39,0.971) (0.46,0.966) (0.54,0.973) (0.64,0.966) (0.74,0.971) (0.43,0.9535) (0.51,0.948) (0.60,0.955)
(0.30,1.052) (0.37,1.055) (0.43,1.058) (0.51,1.052) (0.58,1.058) (0.66,1.055) (0.29,1.030) (0.37,1.035) (0.44,1.030) (0.52,1.038)
(0.58,1.033) (0.66,1.038) (0.78,1.028) (0.29,1.000) (0.37,1.012) (0.44,0.998) (0.51,1.000) (0.58,1.015) (0.64,0.998) (0.72,1.000)
(0.31,0.978) (0.38,0.978) (0.45,0.975) (0.53,0.980) (0.61,0.975) (0.70,0.980) (0.37,0.958) (0.44,0.960) (0.55,0.958) (0.66,0.950)
};
\addplot[highz] coordinates {
(0.875,1.0458) (1.29,1.0444) (2.16,1.0514) (1.13,1.0127) (1.64,1.0081) (0.955,0.9923) (1.04,0.9965) (1.70,0.9965) (1.91,0.9958)
(1.36,0.9624) (1.49,0.9595) (1.57,0.9493) (0.776,0.9447) (1.21,0.9447) (2.02,0.920) (2.58,0.907) (1.79,0.8814) (0.378,1.0898)
(0.63,0.957)
};
\addplot[zline] coordinates {(0.0088,1) (3.38,1)};
\end{axis}

\begin{axis}[height=2.49in, at={(13.123in,-3.677in)},
  ymin=0.9036, ymax=1.146,
  ytick={0.95,1,1.05,1.1}, yticklabels={0.95,1.00,1.05,1.10},
  xlabel={Sim LC Redshift Bin}]
\addplot[lowz] coordinates {
(0.0114,1.0838) (0.0149,1.0299) (0.0168,1.035) (0.0182,1.0506) (0.0196,1.0282) (0.0206,0.9708) (0.0218,1.022) (0.0227,1.048)
(0.0236,1.0026) (0.0245,0.9484) (0.025,1.0571) (0.0259,1.087) (0.0268,1.0718) (0.0273,1.0416) (0.0283,1.027) (0.0283,1.0114)
(0.0291,0.9971) (0.0296,1.135) (0.0301,1.0513) (0.0312,1.048) (0.0322,1.074) (0.0326,1.0049) (0.0333,0.9734) (0.0344,0.9653)
(0.0355,1.0464) (0.036,0.9838) (0.0367,1.0195) (0.0381,0.9701) (0.0396,0.9344) (0.042,1.0951) (0.0433,0.9344) (0.0448,1.0643)
(0.047,1.0903) (0.0479,0.9523) (0.0496,0.9555) (0.0513,1.0935) (0.053,1.135) (0.0548,1.086) (0.061,1.0854) (0.0655,1.0805)
(0.0734,1.0961) (0.0705,1.062) (0.0624,1.0659) (0.0723,1.0377) (0.091,1.0205) (0.0665,0.9815) (0.0688,0.9604) (0.063,0.9695)
(0.079,0.9938) (0.0655,1.0211)
(0.042,1.0464) (0.048,1.043) (0.055,1.048) (0.062,1.043) (0.044,1.0334) (0.050,1.030) (0.057,1.035) (0.065,1.030) (0.045,1.0188)
(0.051,1.0156) (0.058,1.0205) (0.041,1.0075) (0.046,1.004) (0.053,1.009) (0.060,1.004) (0.043,0.9929) (0.049,0.9896) (0.057,0.9945)
(0.048,0.978) (0.055,0.975)
(0.041,1.056) (0.047,1.052) (0.053,1.058) (0.059,1.055) (0.066,1.050) (0.040,1.038) (0.046,1.040) (0.052,1.025) (0.059,1.038)
(0.066,1.022) (0.041,1.020) (0.047,1.025) (0.054,1.015) (0.062,1.012) (0.040,0.998) (0.046,0.995) (0.052,0.998) (0.058,0.998)
(0.065,0.992) (0.042,0.985) (0.051,0.982) (0.059,0.985) (0.044,0.970) (0.052,0.965) (0.058,0.972)
};
\addplot[midz] coordinates {
(0.0593,0.9549) (0.121,1.0448) (0.174,1.0455) (0.143,1.0052) (0.158,1.0036) (0.186,1.0114) (0.199,0.9977) (0.226,0.9929)
(0.243,1.0789) (0.259,1.0237) (0.286,1.0854) (0.296,0.9302) (0.306,0.9847) (0.333,0.9442) (0.349,1.074) (0.355,1.0675) (0.41,0.949)
(0.465,0.9133) (0.486,1.0838) (0.52,1.0854) (0.52,0.9328) (0.565,0.9344) (0.612,1.100) (0.605,1.0724) (0.59,0.949) (0.70,0.9604)
(0.79,0.9685) (0.912,1.0042) (0.78,1.0172) (0.54,1.0578)
(0.36,1.0497) (0.43,1.0448) (0.50,1.053) (0.59,1.048) (0.70,1.0448) (0.39,1.0334) (0.46,1.0286) (0.54,1.035) (0.63,1.030)
(0.72,1.0334) (0.35,1.0172) (0.41,1.0123) (0.48,1.0188) (0.57,1.014) (0.67,1.0172) (0.38,0.9994) (0.44,0.9945) (0.52,1.001)
(0.61,0.996) (0.72,1.001) (0.40,0.9815) (0.47,0.9766) (0.55,0.983) (0.65,0.978) (0.43,0.9653) (0.50,0.9604) (0.59,0.9653)
(0.47,0.9458)
(0.30,1.055) (0.37,1.062) (0.44,1.058) (0.51,1.065) (0.58,1.058) (0.66,1.062) (0.29,1.040) (0.36,1.038) (0.43,1.040) (0.50,1.042)
(0.58,1.040) (0.66,1.040) (0.77,1.025) (0.30,1.005) (0.37,1.022) (0.44,1.008) (0.51,1.025) (0.58,1.005) (0.66,1.025) (0.76,1.008)
(0.31,0.990) (0.38,0.988) (0.46,0.988) (0.54,0.992) (0.62,0.988) (0.72,0.985) (0.36,0.970) (0.44,0.972) (0.54,0.968) (0.62,0.965)
};
\addplot[highz] coordinates {
(0.96,1.086) (0.38,1.0172) (1.04,1.0156) (2.02,1.013) (2.59,1.0123) (0.76,0.9977) (1.13,0.9987) (1.50,1.0036) (0.63,0.9896)
(0.88,0.9896) (1.71,0.9766) (1.79,0.976) (2.15,0.9815) (1.27,0.9636) (1.40,0.9653) (1.91,0.949) (1.60,0.9377) (1.65,0.936)
(1.34,0.9289) (1.19,0.9159)
};
\addplot[zline] coordinates {(0.0088,1) (3.38,1)};
\end{axis}

\node[draw=red, text=red, line width=1pt, font=\tfs, inner xsep=2pt, inner ysep=2pt]
  at ([xshift=-0.861in, yshift=0.403in]p4.north east) {Simulated Data};

\pgfresetboundingbox
\useasboundingbox (0,0) rectangle (16.27in,-6.91in);
\end{tikzpicture}
\end{document}
